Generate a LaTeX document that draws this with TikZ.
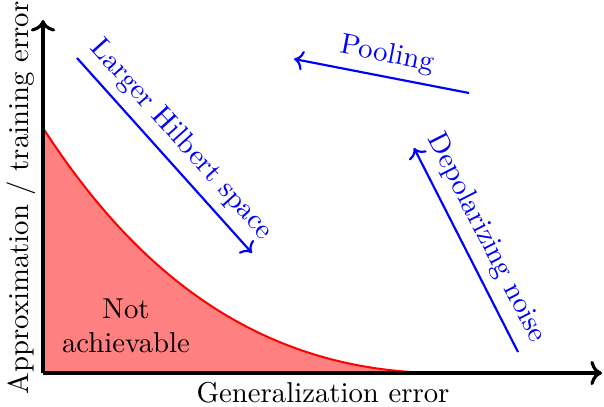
\documentclass[tikz,border=0pt]{standalone}
\usetikzlibrary{arrows.meta}
\begin{document}
\begin{tikzpicture}[x=0.3478pt,y=-0.3478pt,
  axis/.style={line width=1.1pt,->},
  trend/.style={blue,line width=0.75pt,->},
  lbl/.style={blue,inner sep=0pt}]
\path[use as bounding box] (0,0) rectangle (604,406);
\coordinate (o) at (43,373);
\coordinate (ytop) at (43,20);
\coordinate (xend) at (602,373);
\coordinate (c0) at (43,128);
\coordinate (c1) at (440,373);
% region
\fill[red!50] (c0) .. controls (130,262) and (250,372) .. (c1) -- (o) -- cycle;
\draw[red,line width=0.7pt] (c0) .. controls (130,262) and (250,372) .. (c1);
\draw[axis] (o) -- (ytop);
\draw[axis] (o) -- (xend);
\node[rotate=90] (ylab) at (21,198) {Approximation / training error};
\node (xlab) at (323,393) {Generalization error};
\node[align=center] (na) at (126,326) {Not\\achievable};
% trends
\coordinate (h1) at (77,58);
\coordinate (h2) at (252,253);
\draw[trend] (h1) -- (h2);
\node[lbl,rotate=-48] (hl) at (181,140) {Larger Hilbert space};
\coordinate (p1) at (469,93);
\coordinate (p2) at (294,59);
\draw[trend] (p1) -- (p2);
\node[lbl,rotate=-11] (pl) at (387,55) {Pooling};
\coordinate (d1) at (518,352);
\coordinate (d2) at (414,148);
\draw[trend] (d1) -- (d2);
\node[lbl,rotate=-62.9] (dl) at (486,238) {Depolarizing noise};
\end{tikzpicture}
\end{document}
